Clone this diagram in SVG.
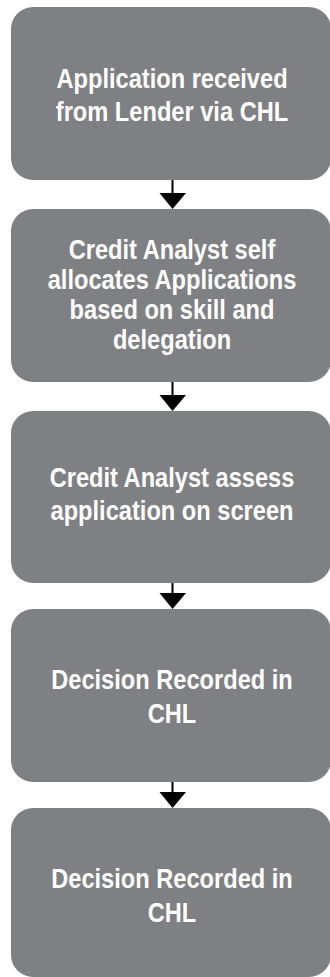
<svg xmlns="http://www.w3.org/2000/svg" width="330" height="977" viewBox="0 0 330 977">
<defs>
<style>
.box{fill:#7f8083;}
.lbl{font-family:"Liberation Sans",Arial,sans-serif;font-weight:bold;font-size:27.5px;fill:#ffffff;text-anchor:middle;}
.conn{stroke:#000;stroke-width:2;fill:none;}
.head{fill:#000;}
</style>
</defs>
<rect width="330" height="977" fill="#ffffff"/>
<g id="connectors">
<line class="conn" x1="172.5" y1="180" x2="172.5" y2="194"/>
<polygon class="head" points="159.5,193 186,193 172.5,209"/>
<line class="conn" x1="172.5" y1="382" x2="172.5" y2="396"/>
<polygon class="head" points="159.5,395 186,395 172.5,411"/>
<line class="conn" x1="172.5" y1="583" x2="172.5" y2="594"/>
<polygon class="head" points="159.5,593 186,593 172.5,609"/>
<line class="conn" x1="172.5" y1="782" x2="172.5" y2="793"/>
<polygon class="head" points="159.5,792 186,792 172.5,808"/>
</g>
<g id="node1">
<rect class="box" x="11" y="7" width="320" height="173" rx="22"/>
<g transform="translate(172 0) scale(0.86 1)">
<text class="lbl" x="0" y="88">Application received</text>
<text class="lbl" x="0" y="121">from Lender via CHL</text>
</g>
</g>
<g id="node2">
<rect class="box" x="11" y="209" width="320" height="173" rx="22"/>
<g transform="translate(172 0) scale(0.86 1)">
<text class="lbl" x="0" y="259">Credit Analyst self</text>
<text class="lbl" x="0" y="289">allocates Applications</text>
<text class="lbl" x="0" y="319">based on skill and</text>
<text class="lbl" x="0" y="349">delegation</text>
</g>
</g>
<g id="node3">
<rect class="box" x="11" y="411" width="320" height="172" rx="22"/>
<g transform="translate(172 0) scale(0.86 1)">
<text class="lbl" x="0" y="487">Credit Analyst assess</text>
<text class="lbl" x="0" y="520">application on screen</text>
</g>
</g>
<g id="node4">
<rect class="box" x="11" y="609" width="320" height="173" rx="22"/>
<g transform="translate(172 0) scale(0.86 1)">
<text class="lbl" x="0" y="689">Decision Recorded in</text>
<text class="lbl" x="0" y="723">CHL</text>
</g>
</g>
<g id="node5">
<rect class="box" x="11" y="808" width="320" height="169" rx="22"/>
<g transform="translate(172 0) scale(0.86 1)">
<text class="lbl" x="0" y="888">Decision Recorded in</text>
<text class="lbl" x="0" y="922">CHL</text>
</g>
</g>
</svg>
